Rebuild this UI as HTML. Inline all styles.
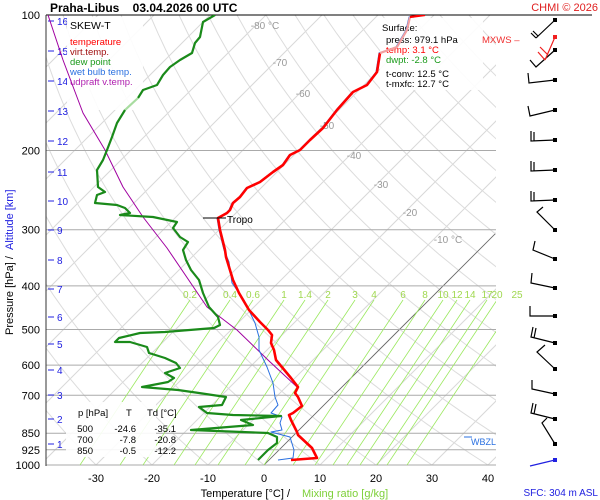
<!DOCTYPE html>
<html><head><meta charset="utf-8"><style>
html,body{margin:0;padding:0;background:#fff;}
svg{display:block;font-family:"Liberation Sans",sans-serif;}
</style></head><body>
<svg id="s" width="600" height="500" viewBox="0 0 600 500" xmlns="http://www.w3.org/2000/svg">
<defs><clipPath id="c"><rect x="46" y="15" width="450" height="450"/></clipPath></defs>
<g id="grid" clip-path="url(#c)"></g>
<g id="hl"></g>
<g id="mr" clip-path="url(#c)"></g>
<text x="50" y="12" font-size="12" font-weight="bold" fill="#000" style="white-space:pre" xml:space="preserve">Praha-Libus    03.04.2026 00 UTC</text>
<text x="598" y="11" font-size="11" fill="#e02020" text-anchor="end">CHMI © 2026</text>
<line x1="46" y1="15" x2="592" y2="15" stroke="#000" stroke-width="1"/>
<line x1="46" y1="15" x2="46" y2="466" stroke="#333" stroke-width="1"/>
<g id="lbl"></g>
<rect x="67" y="17" width="76" height="93" fill="#fff" opacity="0.9"/>
<g font-size="9.5">
<text x="70" y="29" font-size="10.5" fill="#000">SKEW-T</text>
<text x="70" y="45" fill="#f00">temperature</text>
<text x="70" y="55" fill="#a01010">virt.temp.</text>
<text x="70" y="65" fill="#1a9a1a">dew point</text>
<text x="70" y="75" fill="#2a70e0">wet bulb temp.</text>
<text x="70" y="85" fill="#b020b0">udpraft v.temp.</text>
</g>
<rect x="380" y="18" width="103" height="72" fill="#fff" opacity="0.9"/>
<g font-size="9.5">
<text x="382" y="31" fill="#000">Surface:</text>
<text x="386" y="43" fill="#000">press: 979.1 hPa</text>
<text x="386" y="53" fill="#f00">temp: 3.1 °C</text>
<text x="386" y="63" fill="#1a9a1a">dwpt: -2.8 °C</text>
<text x="386" y="77" fill="#000">t-conv: 12.5 °C</text>
<text x="386" y="87" fill="#000">t-mxfc: 12.7 °C</text>
</g>
<rect x="66" y="402" width="90" height="55" fill="#fff" opacity="0.9"/>
<g font-size="9.5" fill="#000">
<text x="78" y="416">p [hPa]</text><text x="126" y="416">T</text><text x="147" y="416">Td [°C]</text>
<text x="93" y="432" text-anchor="end">500</text><text x="136" y="432" text-anchor="end">-24.6</text><text x="176" y="432" text-anchor="end">-35.1</text>
<text x="93" y="443" text-anchor="end">700</text><text x="136" y="443" text-anchor="end">-7.8</text><text x="176" y="443" text-anchor="end">-20.8</text>
<text x="93" y="454" text-anchor="end">850</text><text x="136" y="454" text-anchor="end">-0.5</text><text x="176" y="454" text-anchor="end">-12.2</text>
</g>
<g id="prof" clip-path="url(#c)"></g>
<line x1="203" y1="218" x2="226" y2="218" stroke="#000"/>
<text x="227" y="223" font-size="10" fill="#000">Tropo</text>
<text x="482" y="43" font-size="9.5" fill="#f03030">MXWS –</text>
<text x="471" y="445" font-size="9" fill="#2a70e0">WBZL</text>
<line x1="464" y1="437" x2="472" y2="437" stroke="#2a70e0"/>
<g id="barbs" stroke="#000" stroke-width="1.2" fill="none"></g>
<text x="290" y="497" font-size="11" fill="#000" text-anchor="end">Temperature [°C]  /</text>
<text x="302" y="497" font-size="11" fill="#7ed03a">Mixing ratio [g/kg]</text>
<text x="598" y="496" font-size="10" fill="#2020e0" text-anchor="end">SFC: 304 m ASL</text>
<text transform="translate(13,335) rotate(-90)" font-size="11" fill="#000">Pressure [hPa]  /</text>
<text transform="translate(13,250) rotate(-90)" font-size="11" fill="#2020e0">Altitude [km]</text>
</svg>
<script>
const NS="http://www.w3.org/2000/svg";
function el(p,t,a){const e=document.createElementNS(NS,t);for(const k in a)e.setAttribute(k,a[k]);p.appendChild(e);return e;}
const Y=p=>15+450*Math.log10(p/100);
const X=(T,y)=>264+5.6*T+(465-y);
const g=document.getElementById('grid');
for(let T=-160;T<=50;T+=10){el(g,'line',{x1:X(T,465),y1:465,x2:X(T,15),y2:15,stroke:'#d8d8d8','stroke-width':1});}
for(let th=-40;th<=250;th+=10){let pts=[];for(let p=1050;p>=95;p-=10){const T=(th+273.15)*Math.pow(p/1000,0.286)-273.15;const y=Y(p);pts.push(X(T,y).toFixed(1)+','+y.toFixed(1));}
el(g,'polyline',{points:pts.join(' '),fill:'none',stroke:'#dcdcdc','stroke-width':1});}
el(g,'line',{x1:264,y1:465,x2:495,y2:234,stroke:'#666','stroke-width':0.8});
const lb=[[-80,265,29],[-70,280,66],[-60,303,97],[-50,327,129],[-40,354,159],[-30,381,188],[-20,410,216],[-10,448,243]];
const L=document.getElementById('lbl');
lb.forEach(([t,x,y])=>{const e=el(L,'text',{x:x,y:y,'font-size':10,fill:'#999','text-anchor':'middle'});e.textContent=t+((t==-80||t==-10)?' °C':'');});
const hl=document.getElementById('hl');
[[100],[200],[300],[400],[500],[600],[700],[850],[925],[1000]].forEach(a=>{const p=a[0];const y=Y(p);
if(p>100)el(hl,'line',{x1:46,y1:y,x2:496,y2:y,stroke:'#aaa','stroke-width':1});
const t=el(L,'text',{x:40,y:y+4,'font-size':11,fill:'#000','text-anchor':'end'});t.textContent=p;});
[[16,21],[15,51],[14,81],[13,111],[12,141],[11,172],[10,201],[9,230],[8,260],[7,289],[6,317],[5,344],[4,370],[3,395],[2,419],[1,444]].forEach(([k,y])=>{
el(L,'line',{x1:48,y1:y,x2:54,y2:y,stroke:'#2020e0'});const t=el(L,'text',{x:57,y:y+4,'font-size':10,fill:'#2020e0'});t.textContent=k;});
for(let T=-30;T<=40;T+=10){const t=el(L,'text',{x:264+5.6*T,y:482,'font-size':11,fill:'#000','text-anchor':'middle'});t.textContent=T;}
const mr=document.getElementById('mr');
[['0.2',190],['0.4',230],['0.6',253],['1',284],['1.4',305],['2',328],['3',355],['4',374],['6',403],['8',425],['10',443],['12',457],['14',470],['17',487],['20',497],['25',517]].forEach(([s,x])=>{
el(mr,'line',{x1:x-112,y1:468,x2:x,y2:300,stroke:'#9be860','stroke-width':0.8});
const t=el(L,'text',{x:x,y:298,'font-size':10,fill:'#a0d850','text-anchor':'middle'});t.textContent=s;});
const P=document.getElementById('prof');
function pl(pts,c,w){el(P,'polyline',{points:pts.map(a=>a.join(',')).join(' '),fill:'none',stroke:c,'stroke-width':w,'stroke-linejoin':'round'});}
pl([[48,15],[63,60],[83,113],[105,150],[123,187],[143,217],[167,248],[207,307],[237,330],[268,360],[297,387]],'#a000a0',1);
const wb=[[425,15],[410,17],[407,30],[397,47],[380,53],[377,72],[367,85],[353,92],[337,110],[323,128],[310,140],[300,150],[290,155],[283,165],[273,172],[260,182],[247,188],[240,197],[233,203],[230,210],[227,213],[218,218],[220,230],[225,250],[230,262],[233,283],[245,300],[256,323],[260,337],[260,350],[268,367],[274,383],[276,397],[279,405],[272,413],[283,417],[281,423],[283,430],[272,432],[291,437],[295,450],[294,458],[279,460]];
pl(wb.map(a=>[a[0]-1,a[1]]),'#2a70e0',1);
pl([[291,460],[317,458],[312,448],[298,435],[297,432],[291,420],[289,415],[293,413],[302,406],[298,397],[295,393],[298,387],[291,378],[276,360],[274,350],[271,343],[272,335],[268,330],[260,322],[249,310],[239,293],[233,280],[226,257],[225,250],[220,230],[218,218],[227,213],[230,210],[233,203],[240,197],[247,188],[260,182],[273,172],[283,165],[290,155],[300,150],[310,140],[323,128],[337,110],[353,92],[367,85],[377,72],[380,53]],'#f00',2.6);
pl([[380,53],[397,47],[407,30],[410,17]],'#f4a0a0',2.2);
pl([[410,17],[425,15]],'#f00',2.2);
pl([[215,15],[203,22],[200,37],[195,43],[192,53],[180,60],[170,67],[163,75],[157,85],[143,90],[138,98]],'#1a8a1a',2.2);
pl([[138,98],[125,110]],'#a8dca0',2.2);
pl([[125,110],[117,123],[112,137],[107,150],[103,160],[97,170],[98,187],[105,192],[97,195],[95,203],[117,205],[125,208],[130,213],[120,215],[153,217],[177,222],[173,228],[180,237],[188,242],[183,250],[186,260],[191,270],[199,280],[203,293],[209,307],[218,317],[220,325],[214,328],[165,332],[140,333],[119,338],[115,342],[130,342],[147,347],[149,353],[165,358],[176,363],[180,368],[165,373],[174,378],[168,382],[142,387],[178,390],[199,393],[226,397],[222,405],[199,407],[207,413],[233,415],[281,416],[241,420],[253,425],[191,430],[268,433],[277,437],[277,443],[268,450],[258,460]],'#1a8a1a',2.2);
const B=document.getElementById('barbs');
function barb(d,col){const e=el(B,'path',{d:d});if(col)e.setAttribute('stroke',col);}
function dot(x,y,c){el(B,'rect',{x:x-2,y:y-2,width:4,height:4,fill:c||'#000',stroke:'none'});}
const bb=[
[20,'M555 20 L536 38 M536 38 L531 33 M538 36 L533 31'],
[50,'M555 50 L536 67 L530 60'],
[80,'M555 80 L529 83 L528 73'],
[110,'M555 110 L530 116 L528 106'],
[140,'M555 140 L531 141 L531 131 M534 141 L534 132'],
[170,'M555 170 L531 171 L531 161 M534 171 L534 162'],
[200,'M555 200 L531 201 L531 191 M534 201 L534 192'],
[230,'M555 230 L537 212 L543 207'],
[259,'M555 259 L533 250 L535 241'],
[288,'M555 288 L531 283 L532 273'],
[316,'M555 316 L530 316 L530 306'],
[343,'M555 343 L531 337 L533 327 M534 338 L536 328'],
[369,'M555 369 L537 352 L545 345'],
[394,'M555 394 L532 389 L532 380'],
[419,'M555 419 L531 413 L533 403 M534 414 L536 404'],
[444,'M555 444 L542 423 L547 418']];
bb.forEach(([y,d])=>{barb(d);dot(555,y);});
barb('M555 37 L545 60 M545 60 L538 52 M548 55 L540 47','#f02020');dot(555,37,'#f02020');
barb('M555 460 L530 466','#2020e0');dot(555,460,'#2020e0');
</script>
</body></html>
